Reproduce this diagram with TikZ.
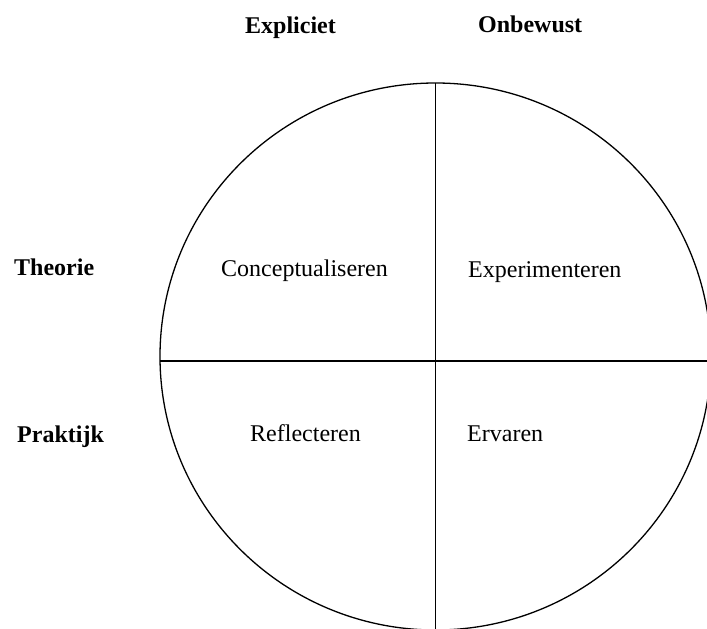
\documentclass[tikz,border=0pt]{standalone}
\usepackage{fontspec}
\setmainfont{Liberation Serif}
\usetikzlibrary{positioning}

\begin{document}
\begin{tikzpicture}[
    x=1pt, y=-1pt,
    axis/.style={font=\fontsize{24}{28}\selectfont\bfseries, anchor=base west, inner sep=0pt},
    phase/.style={font=\fontsize{24}{28}\selectfont, anchor=base west, inner sep=0pt},
    divider/.style={draw, line width=1.6pt}
]

\path[use as bounding box] (0,0) rectangle (707,629);
\clip (0,0) rectangle (707,629);

% cirkel
\draw[line width=1.3pt] (435.5,356.5) ellipse [x radius=275.5, y radius=273.5];

\coordinate (top) at (435.5,83);
\coordinate (bottom) at (435.5,640);
\coordinate (left) at (160,361);
\coordinate (right) at (720,361);

\draw[divider] (top) -- (bottom);
\draw[divider] (left) -- (right);

% assen
\node[axis] (expl) at (245,33) {Expliciet};
\node[axis] (onbew) at (478,32) {Onbewust};
\node[axis] (theo) at (14,275) {Theorie};
\node[axis] (prak) at (17,442) {Praktijk};

% kwadranten
\node[phase] (concept) at (221,276) {Conceptualiseren};
\node[phase] (experi) at (468,277) {Experimenteren};
\node[phase] (reflect) at (250,441) {Reflecteren};
\node[phase] (ervaren) at (467,441) {Ervaren};

\end{tikzpicture}
\end{document}
